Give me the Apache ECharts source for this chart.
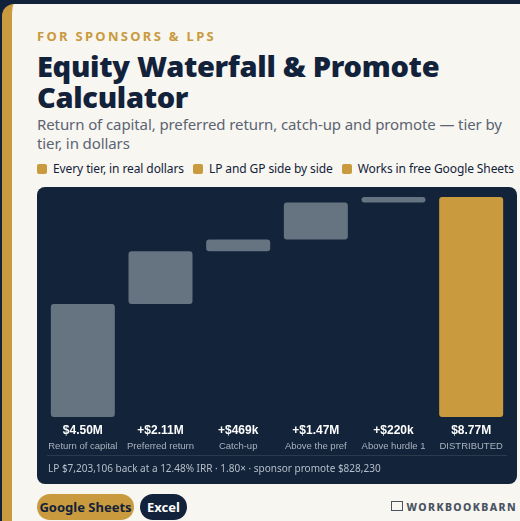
<!DOCTYPE html>
<html><head><meta charset="utf-8">
<script src="https://cdn.jsdelivr.net/npm/echarts@6/dist/echarts.min.js"></script>
<style>
body{margin:0;width:520px;height:521px;background:#12223a;overflow:hidden;font-family:"Noto Sans",sans-serif}
#card{position:absolute;left:2px;top:4px;width:530px;height:530px;background:#f8f6f1;border-radius:12px;border-left:10px solid #c99a3e}
.t{position:absolute;left:37px;white-space:nowrap}
#panel{position:absolute;left:37px;top:187px;width:480px;height:297px;background:#12233a;border-radius:8px}
#chart{position:absolute;left:0;top:0;width:480px;height:297px}
.chip{display:inline-block;width:10px;height:10px;background:#c99a3e;border-radius:2px;margin-right:6px;vertical-align:-1px}
.btn{position:absolute;top:494px;height:26px;line-height:26px;border-radius:13px;font-weight:700;font-size:13px;text-align:center}
</style></head><body>
<div id="card"></div>
<div class="t" style="top:27px;font-size:13px;font-weight:700;letter-spacing:2.3px;color:#c99a3e">FOR SPONSORS &amp; LPS</div>
<div class="t" style="top:50px;font-size:29px;font-weight:900;line-height:31px;color:#12223a;letter-spacing:-0.3px">Equity Waterfall &amp; Promote<br>Calculator</div>
<div class="t" style="top:115px;font-size:15px;line-height:19px;color:#5a6472;letter-spacing:-0.1px">Return of capital, preferred return, catch-up and promote — tier by<br>tier, in dollars</div>
<div class="t" style="top:160px;font-size:12px;color:#12223a;letter-spacing:-0.1px"><span class="chip"></span>Every tier, in real dollars&nbsp;&nbsp;&nbsp;<span class="chip"></span>LP and GP side by side&nbsp;&nbsp;&nbsp;<span class="chip"></span>Works in free Google Sheets</div>
<div id="panel"><div id="chart"></div>
<div style="position:absolute;left:10px;right:10px;top:268px;border-top:1px solid #2b3a4f"></div>
<div style="position:absolute;left:11px;top:274px;font-size:10px;color:#b7bfca;white-space:nowrap">LP $7,203,106 back at a 12.48% IRR · 1.80× · sponsor promote $828,230</div>
</div>
<div class="btn" style="left:37px;width:97px;background:#c99a3e;color:#12223a">Google Sheets</div>
<div class="btn" style="left:140px;width:47px;background:#12223a;color:#fff">Excel</div>
<div style="position:absolute;right:3px;top:500px;font-size:10.5px;font-weight:800;letter-spacing:1.4px;color:#4a5361;white-space:nowrap"><span style="display:inline-block;width:10px;height:8px;border:1px solid #4a5361;margin-right:4px;vertical-align:0px"></span>WORKBOOKBARN</div>
<script>
const categories=["Return of capital","Preferred return","Catch-up","Above the pref","Above hurdle 1","DISTRIBUTED"];
const valueLabels=["$4.50M","+$2.11M","+$469k","+$1.47M","+$220k","$8.77M"];
const deltas=[4.50,2.11,0.469,1.47,0.22,8.769];
const isTotal=[false,false,false,false,false,true];
const base=[];let run=0;
deltas.forEach((d,i)=>{if(isTotal[i]){base.push(0);}else{base.push(run);run+=d;}});
const c=echarts.init(document.getElementById('chart'));
c.setOption({
 animation:false,
 grid:{left:7,right:7,top:10,height:220},
 xAxis:{type:'category',data:categories,axisLine:{show:false},axisTick:{show:false},
  axisLabel:{interval:0,margin:6,formatter:(v,i)=>'{a|'+valueLabels[i]+'}\n{b|'+v+'}',
   rich:{a:{color:'#fff',fontSize:12,fontWeight:'bold',lineHeight:16},b:{color:'#aab3bf',fontSize:9.5,lineHeight:14}}}},
 yAxis:{type:'value',min:0,max:8.769,show:false,splitLine:{show:false}},
 series:[
  {type:'bar',stack:'w',data:base,itemStyle:{color:'transparent'},barWidth:64},
  {type:'bar',stack:'w',data:deltas.map((d,i)=>({value:d,itemStyle:{color:isTotal[i]?'#c99a3e':'#667381'}})),barWidth:64,itemStyle:{borderRadius:3}}
 ]
});
</script>
</body></html>
